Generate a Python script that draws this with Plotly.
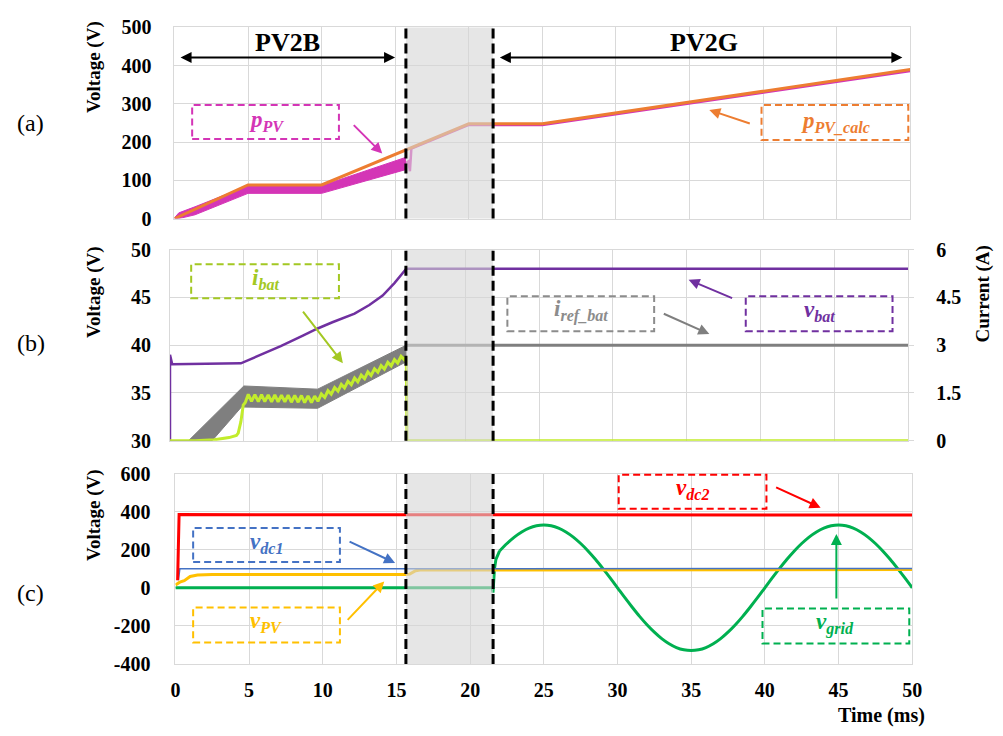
import plotly.graph_objects as go

W, H = 1003, 736
FONT = "Liberation Serif"

def px(x):
    return x / W

def py(y):
    return 1 - y / H

# ---------------- DATA ----------------
# Panel (a) power-like voltages
t_pcalc = [0, 5, 10, 15.7, 20, 25, 50]
p_pv_calc = [0, 88, 88, 180, 248, 248, 390]

t_ppv_up = [0, 0.3, 1.4, 5, 10, 15.7]
p_pv_up = [2, 15, 31, 86, 86, 160]
t_ppv_lo = [0, 0.3, 1.4, 5, 10, 15.7]
p_pv_lo = [0, 0, 10, 66, 66, 128]
t_ppv_after = [15.7, 15.9, 16.0, 16.1, 20, 25, 50]
p_pv_after = [145, 150, 124, 183, 245, 245, 386]

# Panel (b)
t_vbat = [0, 0, 0.15, 4.8, 6, 7.5, 9, 10, 11, 12.5, 13.5, 14.4, 15.2, 16.0, 50]
v_bat = [30, 39, 38, 38.1, 38.9, 39.9, 41.0, 41.75, 42.4, 43.3, 44.2, 45.2, 46.5, 48.0, 48.0]

t_iref_up = [0, 1.25, 5.0, 10.0, 16.0]
i_ref_up = [0, 0, 1.72, 1.62, 3.0]
t_iref_lo = [0, 2.85, 4.84, 10.0, 16.0]
i_ref_lo = [0, 0, 1.06, 1.02, 2.48]
t_iref_after = [16.0, 50]
i_ref_after = [3.0, 3.0]

t_ibat = [0, 1.7, 3.0, 4.0, 4.5, 4.62, 4.8, 4.96, 5.1,
          5.30, 5.52, 5.75, 5.98, 6.20, 6.42, 6.65, 6.88, 7.10, 7.32, 7.55, 7.78,
          8.00, 8.22, 8.45, 8.68, 8.90, 9.12, 9.35, 9.58, 9.80, 10.02, 10.25, 10.48,
          10.70, 10.92, 11.15, 11.38, 11.60, 11.82, 12.05, 12.28, 12.50, 12.72, 12.95,
          13.18, 13.40, 13.62, 13.85, 14.08, 14.30, 14.52, 14.75, 14.98, 15.20, 15.42,
          15.65, 15.88, 16.0, 16.05, 50]
i_bat = [0, 0, 0.03, 0.1, 0.17, 0.24, 0.6, 1.12, 1.2,
         1.46, 1.24, 1.45, 1.23, 1.45, 1.23, 1.44, 1.22, 1.44, 1.22, 1.43, 1.22,
         1.43, 1.21, 1.42, 1.21, 1.42, 1.20, 1.41, 1.20, 1.40, 1.24, 1.47, 1.36,
         1.57, 1.46, 1.67, 1.56, 1.77, 1.66, 1.87, 1.76, 1.97, 1.85, 2.06,
         1.95, 2.16, 2.05, 2.26, 2.15, 2.36, 2.25, 2.46, 2.35, 2.55, 2.44,
         2.65, 2.54, 2.65, 0, 0]

# Panel (c)
t_vdc2 = [0.15, 0.25, 50]
v_dc2 = [40, 385, 383]
t_vdc1 = [0.2, 0.3, 50]
v_dc1 = [40, 100, 102]
t_vpv = [0, 0.3, 0.6, 1.0, 1.5, 2.5, 15.6, 15.9, 16.3, 16.6, 50]
v_pv = [15, 30, 38, 60, 67, 70, 70, 72, 90, 94, 96]
t_vgrid_pre = [0, 21.5, 21.55, 21.6, 21.65, 21.75, 21.85, 22.0]
v_grid_pre = [0, 0, -25, 90, 100, 150, 170, 194]
t_vgrid = [22, 22.5, 23, 23.5, 24, 24.5, 25, 25.5, 26, 26.5, 27, 27.5, 28, 28.5, 29, 29.5,
           30, 30.5, 31, 31.5, 32, 32.5, 33, 33.5, 34, 34.5, 35, 35.5, 36, 36.5, 37, 37.5,
           38, 38.5, 39, 39.5, 40, 40.5, 41, 41.5, 42, 42.5, 43, 43.5, 44, 44.5, 45, 45.5,
           46, 46.5, 47, 47.5, 48, 48.5, 49, 49.5, 50]
v_grid = [194, 233, 267, 294, 314, 326, 330, 326, 314, 294, 267, 233, 194, 150, 102, 52,
          0, -52, -102, -150, -194, -233, -267, -294, -314, -326, -330, -326, -314, -294, -267, -233,
          -194, -150, -102, -52, 0, 52, 102, 150, 194, 233, 267, 294, 314, 326, 330, 326,
          314, 294, 267, 233, 194, 150, 102, 52, 0]

x_ticks = [0, 5, 10, 15, 20, 25, 30, 35, 40, 45, 50]
ya_ticks = [0, 100, 200, 300, 400, 500]
yb_ticks = [30, 35, 40, 45, 50]
yb2_ticks = [0, 1.5, 3, 4.5, 6]
yb2_text = ["0", "1.5", "3", "4.5", "6"]
yc_ticks = [-400, -200, 0, 200, 400, 600]
yc_text = ["-400", "-200", "0", "200", "400", "600"]

# colours
MAG = "#D435B6"
ORA = "#ED7D31"
PUR = "#7030A0"
GRY = "#7F7F7F"
LIME = "#C2EC2C"
LIME_T = "#A3C823"
RED = "#FF0000"
BLU = "#4472C4"
YEL = "#FFC000"
GRN = "#00B050"

fig = go.Figure()

def line(x, y, color, width, xa, ya, shape="linear"):
    fig.add_trace(go.Scatter(x=x, y=y, mode="lines", line=dict(color=color, width=width, shape=shape),
                             xaxis=xa, yaxis=ya, showlegend=False, hoverinfo="skip"))

# (a)
fig.add_trace(go.Scatter(x=t_ppv_up + t_ppv_lo[::-1], y=p_pv_up + p_pv_lo[::-1], mode="lines",
                         fill="toself", fillcolor=MAG, line=dict(color=MAG, width=1),
                         xaxis="x", yaxis="y", showlegend=False, hoverinfo="skip"))
line(t_ppv_after, p_pv_after, MAG, 2.5, "x", "y")
line(t_pcalc, p_pv_calc, ORA, 3, "x", "y")

# (b)
fig.add_trace(go.Scatter(x=t_iref_up + t_iref_lo[::-1], y=i_ref_up + i_ref_lo[::-1], mode="lines",
                         fill="toself", fillcolor=GRY, line=dict(color=GRY, width=1),
                         xaxis="x2", yaxis="y3", showlegend=False, hoverinfo="skip"))
line(t_iref_after, i_ref_after, GRY, 3, "x2", "y3")
line(t_ibat, i_bat, LIME, 3, "x2", "y3")
line(t_vbat, v_bat, PUR, 2.5, "x2", "y2")

# (c)
line(t_vgrid_pre, v_grid_pre, GRN, 3, "x3", "y4")
line(t_vgrid, v_grid, GRN, 3, "x3", "y4", shape="spline")
line(t_vpv, v_pv, YEL, 3, "x3", "y4")
line(t_vdc1, v_dc1, BLU, 1.5, "x3", "y4")
line(t_vdc2, v_dc2, RED, 3, "x3", "y4")

GRID = "#D9D9D9"
tickfont = dict(family=FONT, size=20, color="black", weight="bold")

def xax(dom, anchor, labels):
    return dict(domain=[px(dom[0]), px(dom[1])], anchor=anchor, range=[0, 50], tickvals=x_ticks,
                showticklabels=labels, tickfont=tickfont, showgrid=True, gridcolor=GRID, gridwidth=1,
                zeroline=False, showline=True, mirror=True, linecolor=GRID, ticks="",
                ticklabelstandoff=8, fixedrange=True)

def yax(dom, anchor, rng, vals, text=None, standoff=16):
    d = dict(domain=[py(dom[1]), py(dom[0])], anchor=anchor, range=rng, tickvals=vals,
             tickfont=tickfont, showgrid=True, gridcolor=GRID, gridwidth=1, zeroline=True,
             zerolinecolor=GRID, zerolinewidth=1, showline=True, mirror=True, linecolor=GRID,
             ticks="", ticklabelstandoff=standoff, fixedrange=True)
    if text is not None:
        d["ticktext"] = text
    return d

fig.update_layout(
    width=W, height=H, margin=dict(l=0, r=0, t=0, b=0),
    paper_bgcolor="white", plot_bgcolor="white",
    xaxis=xax((172, 919), "y", False),
    yaxis=yax((17, 214), "x", [0, 500], ya_ticks, standoff=18),
    xaxis2=xax((167.5, 917), "y2", False),
    yaxis2=yax((246, 443), "x2", [30, 50], yb_ticks, standoff=14),
    yaxis3=dict(overlaying="y2", anchor="x2", side="right", range=[0, 6], tickvals=yb2_ticks,
                ticktext=yb2_text, tickfont=tickfont, showgrid=False, zeroline=False,
                ticks="outside", ticklen=5, tickcolor=GRID, ticklabelstandoff=18, fixedrange=True),
    xaxis3=xax((173, 921), "y4", True),
    yaxis4=yax((477, 673), "x3", [-400, 600], yc_ticks, yc_text, standoff=20),
)

shapes = []
panels = [(17, 214), (246, 443), (477, 673)]
for (y0, y1) in panels:
    shapes.append(dict(type="rect", xref="paper", yref="paper", x0=px(407), x1=px(495.5),
                       y0=py(y1), y1=py(y0), fillcolor="rgba(214,214,214,0.6)",
                       line=dict(width=0), layer="above"))
for (y0, y1) in panels:
    for xv in (407, 495.5):
        shapes.append(dict(type="line", xref="paper", yref="paper", x0=px(xv), x1=px(xv),
                           y0=py(y1), y1=py(y0), line=dict(color="black", width=3, dash="10px,5px"),
                           layer="above"))

annotations = []

def text(tx, ty, label, size, color="black", angle=0):
    annotations.append(dict(xref="paper", yref="paper", x=px(tx), y=py(ty), text=label,
                            showarrow=False, xanchor="center", yanchor="middle", textangle=angle,
                            font=dict(family=FONT, size=size, color=color)))

def box(x0, x1, y0, y1, color, label, tx, ty):
    shapes.append(dict(type="rect", xref="paper", yref="paper", x0=px(x0), x1=px(x1),
                       y0=py(y1), y1=py(y0), line=dict(color=color, width=2, dash="7px,4px"),
                       fillcolor="rgba(0,0,0,0)", layer="above"))
    text(tx, ty, label, 23, color)

def arrow(tail, head, color, width=2, both=False):
    annotations.append(dict(xref="paper", yref="paper", x=px(head[0]), y=py(head[1]),
                            ax=tail[0] - head[0], ay=tail[1] - head[1], axref="pixel", ayref="pixel",
                            text="", showarrow=True, arrowhead=2, startarrowhead=2, arrowsize=1.1,
                            startarrowsize=1.1, arrowwidth=width, arrowcolor=color,
                            arrowside="end+start" if both else "end"))

# (a)
box(190, 339, 97, 132, MAG, "<b><i>p<sub>PV</sub></i></b>", 265, 113)
arrow((353, 117), (383, 147), MAG)
box(768, 917, 97, 133, ORA, "<b><i>p<sub>PV_calc</sub></i></b>", 843, 114)
arrow((757, 116), (715, 102), ORA)
arrow((180, 48), (396, 48), "black", width=2, both=True)
arrow((507, 48), (911, 48), "black", width=2, both=True)
text(287, 32, "<b>PV2B</b>", 26)
text(710, 32, "<b>PV2G</b>", 26)

# (b)
box(189, 339, 261, 296, LIME_T, "<b><i>i<sub>bat</sub></i></b>", 264, 276)
arrow((302, 310), (343, 363), LIME_T)
box(510, 659, 294, 330, "#8C8C8C", "<b><i>i<sub>ref_bat</sub></i></b>", 585, 309)
arrow((668, 312), (715, 333), GRY)
box(752, 901, 294, 330, PUR, "<b><i>v<sub>bat</sub></i></b>", 827, 309)
arrow((739, 296), (694, 277), PUR)

# (c)
box(191, 340, 533, 568, BLU, "<b><i>v<sub>dc1</sub></i></b>", 265, 548)
arrow((349, 547), (396, 569), BLU)
box(191, 340, 615, 651, YEL, "<b><i>v<sub>PV</sub></i></b>", 265, 630)
arrow((347, 628), (385, 588), YEL)
box(623, 773, 478, 513, RED, "<b><i>v<sub>dc2</sub></i></b>", 698, 493)
arrow((782, 491), (828, 512), RED)
box(769, 918, 616, 652, GRN, "<b><i>v<sub>grid</sub></i></b>", 843, 631)
arrow((844, 605), (844, 539), GRN)

# panel labels and axis titles
for lab, yy in (("(a)", 115), ("(b)", 342), ("(c)", 600)):
    text(26, yy, lab, 24)
for yy in (58, 290, 520):
    text(91, yy, "<b>Voltage (V)</b>", 19, angle=-90)
text(993, 292, "<b>Current (A)</b>", 19, angle=-90)
text(890, 726, "<b>Time (ms)</b>", 20)

fig.update_layout(shapes=shapes, annotations=annotations)
fig.write_html("out.html")
